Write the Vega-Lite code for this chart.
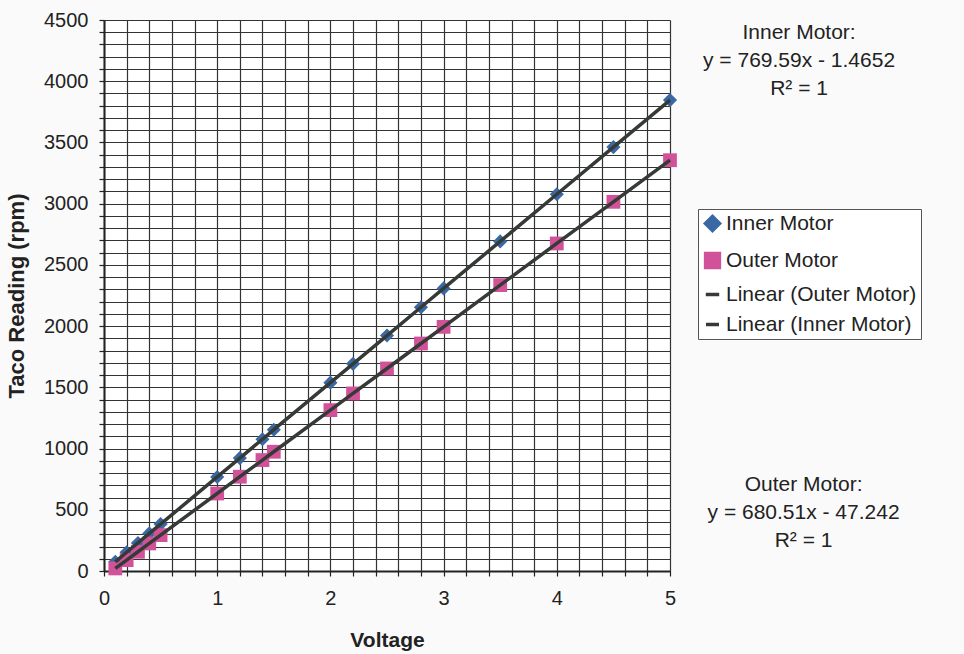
{
  "$schema": "https://vega.github.io/schema/vega-lite/v6.json",
  "width": 566,
  "height": 551,
  "autosize": {"type": "none"},
  "padding": {"left": 104, "top": 20, "right": 294, "bottom": 83},
  "background": "#fafafa",
  "config": {
    "font": "Liberation Sans",
    "view": {"stroke": null, "fill": "white"},
    "legend": {
      "orient": "none",
      "legendX": 594,
      "legendY": 189,
      "labelFont": "Liberation Sans",
      "labelFontSize": 21,
      "labelColor": "#222222",
      "labelLimit": 0,
      "strokeColor": "#555555",
      "fillColor": "white",
      "padding": 4,
      "rowPadding": 8,
      "labelOffset": 3,
      "symbolStrokeWidth": 3.5
    },
    "axis": {
      "grid": true,
      "gridColor": "#333333",
      "gridWidth": 1.2,
      "gridOpacity": 1,
      "domainColor": "#222222",
      "domainWidth": 2,
      "tickColor": "#222222",
      "tickWidth": 1.2,
      "tickSize": 5,
      "labelFontSize": 20,
      "labelColor": "#222222",
      "labelFlush": false,
      "labelOverlap": false,
      "titleFontSize": 21,
      "titleFontWeight": "bold",
      "titleColor": "#222222"
    }
  },
  "data": {
    "values": [
      {"voltage": 0.1, "rpm": 75, "motor": "Inner Motor", "trend": "Linear (Inner Motor)"},
      {"voltage": 0.2, "rpm": 153, "motor": "Inner Motor", "trend": "Linear (Inner Motor)"},
      {"voltage": 0.3, "rpm": 229, "motor": "Inner Motor", "trend": "Linear (Inner Motor)"},
      {"voltage": 0.4, "rpm": 307, "motor": "Inner Motor", "trend": "Linear (Inner Motor)"},
      {"voltage": 0.5, "rpm": 383, "motor": "Inner Motor", "trend": "Linear (Inner Motor)"},
      {"voltage": 1.0, "rpm": 768, "motor": "Inner Motor", "trend": "Linear (Inner Motor)"},
      {"voltage": 1.2, "rpm": 922, "motor": "Inner Motor", "trend": "Linear (Inner Motor)"},
      {"voltage": 1.4, "rpm": 1076, "motor": "Inner Motor", "trend": "Linear (Inner Motor)"},
      {"voltage": 1.5, "rpm": 1154, "motor": "Inner Motor", "trend": "Linear (Inner Motor)"},
      {"voltage": 2.0, "rpm": 1538, "motor": "Inner Motor", "trend": "Linear (Inner Motor)"},
      {"voltage": 2.2, "rpm": 1692, "motor": "Inner Motor", "trend": "Linear (Inner Motor)"},
      {"voltage": 2.5, "rpm": 1923, "motor": "Inner Motor", "trend": "Linear (Inner Motor)"},
      {"voltage": 2.8, "rpm": 2154, "motor": "Inner Motor", "trend": "Linear (Inner Motor)"},
      {"voltage": 3.0, "rpm": 2308, "motor": "Inner Motor", "trend": "Linear (Inner Motor)"},
      {"voltage": 3.5, "rpm": 2692, "motor": "Inner Motor", "trend": "Linear (Inner Motor)"},
      {"voltage": 4.0, "rpm": 3077, "motor": "Inner Motor", "trend": "Linear (Inner Motor)"},
      {"voltage": 4.5, "rpm": 3462, "motor": "Inner Motor", "trend": "Linear (Inner Motor)"},
      {"voltage": 5.0, "rpm": 3846, "motor": "Inner Motor", "trend": "Linear (Inner Motor)"},
      {"voltage": 0.1, "rpm": 21, "motor": "Outer Motor", "trend": "Linear (Outer Motor)"},
      {"voltage": 0.2, "rpm": 89, "motor": "Outer Motor", "trend": "Linear (Outer Motor)"},
      {"voltage": 0.3, "rpm": 157, "motor": "Outer Motor", "trend": "Linear (Outer Motor)"},
      {"voltage": 0.4, "rpm": 225, "motor": "Outer Motor", "trend": "Linear (Outer Motor)"},
      {"voltage": 0.5, "rpm": 293, "motor": "Outer Motor", "trend": "Linear (Outer Motor)"},
      {"voltage": 1.0, "rpm": 633, "motor": "Outer Motor", "trend": "Linear (Outer Motor)"},
      {"voltage": 1.2, "rpm": 770, "motor": "Outer Motor", "trend": "Linear (Outer Motor)"},
      {"voltage": 1.4, "rpm": 906, "motor": "Outer Motor", "trend": "Linear (Outer Motor)"},
      {"voltage": 1.5, "rpm": 974, "motor": "Outer Motor", "trend": "Linear (Outer Motor)"},
      {"voltage": 2.0, "rpm": 1314, "motor": "Outer Motor", "trend": "Linear (Outer Motor)"},
      {"voltage": 2.2, "rpm": 1450, "motor": "Outer Motor", "trend": "Linear (Outer Motor)"},
      {"voltage": 2.5, "rpm": 1654, "motor": "Outer Motor", "trend": "Linear (Outer Motor)"},
      {"voltage": 2.8, "rpm": 1858, "motor": "Outer Motor", "trend": "Linear (Outer Motor)"},
      {"voltage": 3.0, "rpm": 1994, "motor": "Outer Motor", "trend": "Linear (Outer Motor)"},
      {"voltage": 3.5, "rpm": 2335, "motor": "Outer Motor", "trend": "Linear (Outer Motor)"},
      {"voltage": 4.0, "rpm": 2675, "motor": "Outer Motor", "trend": "Linear (Outer Motor)"},
      {"voltage": 4.5, "rpm": 3015, "motor": "Outer Motor", "trend": "Linear (Outer Motor)"},
      {"voltage": 5.0, "rpm": 3355, "motor": "Outer Motor", "trend": "Linear (Outer Motor)"}
    ]
  },
  "encoding": {
    "x": {
      "field": "voltage",
      "type": "quantitative",
      "scale": {"domain": [0, 5], "nice": false, "zero": false},
      "axis": {
        "tickCount": 25,
        "labelExpr": "abs(datum.value - round(datum.value)) < 0.001 ? format(datum.value, 'd') : ''",
        "labelPadding": 12,
        "title": "Voltage",
        "titleY": 75,
        "titleBaseline": "alphabetic"
      }
    },
    "y": {
      "field": "rpm",
      "type": "quantitative",
      "scale": {"domain": [0, 4500], "nice": false},
      "axis": {
        "tickCount": 45,
        "labelExpr": "datum.value % 500 === 0 ? format(datum.value, 'd') : ''",
        "labelPadding": 11,
        "title": "Taco Reading (rpm)",
        "titleFontSize": 22,
        "titleX": -81,
        "titleBaseline": "alphabetic"
      }
    }
  },
  "layer": [
    {
      "mark": {"type": "point", "filled": true, "opacity": 1},
      "encoding": {
        "color": {
          "field": "motor",
          "type": "nominal",
          "scale": {
            "domain": ["Inner Motor", "Outer Motor", "Linear (Outer Motor)", "Linear (Inner Motor)"],
            "range": ["#3a68a4", "#d2529a", "#363a37", "#363a37"]
          },
          "legend": {"title": null}
        },
        "shape": {
          "field": "motor",
          "type": "nominal",
          "scale": {
            "domain": ["Inner Motor", "Outer Motor", "Linear (Outer Motor)", "Linear (Inner Motor)"],
            "range": ["diamond", "square", "stroke", "stroke"]
          },
          "legend": {"title": null}
        },
        "size": {
          "field": "motor",
          "type": "nominal",
          "scale": {
            "domain": ["Inner Motor", "Outer Motor", "Linear (Outer Motor)", "Linear (Inner Motor)"],
            "range": [200, 170, 3900, 3900]
          },
          "legend": null
        }
      }
    },
    {
      "mark": {"type": "line", "strokeWidth": 3.5},
      "encoding": {
        "color": {"field": "trend", "type": "nominal", "legend": {"title": null}}
      }
    },
    {
      "mark": {"type": "text", "align": "center", "baseline": "top", "fontSize": 21, "lineHeight": 28, "color": "#222222", "text": ["Inner Motor:", "y = 769.59x - 1.4652", "R² = 1"]},
      "transform": [{"filter": "datum.voltage === 5 && datum.motor === 'Inner Motor'"}],
      "encoding": {
        "x": {"datum": 6.14, "type": "quantitative"},
        "y": {"datum": 4484, "type": "quantitative"}
      }
    },
    {
      "mark": {"type": "text", "align": "center", "baseline": "top", "fontSize": 21, "lineHeight": 28, "color": "#222222", "text": ["Outer Motor:", "y = 680.51x - 47.242", "R² = 1"]},
      "transform": [{"filter": "datum.voltage === 5 && datum.motor === 'Outer Motor'"}],
      "encoding": {
        "x": {"datum": 6.18, "type": "quantitative"},
        "y": {"datum": 792, "type": "quantitative"}
      }
    }
  ]
}
